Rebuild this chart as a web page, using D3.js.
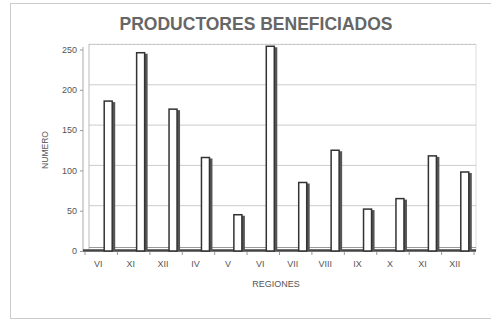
<!DOCTYPE html>
<html>
<head>
<meta charset="utf-8">
<script src="https://cdn.jsdelivr.net/npm/d3@7"></script>
<style>
  html, body { margin: 0; padding: 0; background: #fff; }
  svg { display: block; }
</style>
</head>
<body>
<svg id="chart" width="491" height="326"></svg>
<script>
const categories = ["VI", "XI", "XII", "IV", "V", "VI", "VII", "VIII", "IX", "X", "XI", "XII"];
const values = [186, 246, 176, 116, 45, 254, 85, 125, 52, 65, 118, 98];
const yTicks = [0, 50, 100, 150, 200, 250];

const svg = d3.select("#chart");
const font = "'Liberation Sans', Arial, sans-serif";
const textColor = "#555";

// outer frame
svg.append("rect").attr("x", 10.5).attr("y", 3.5).attr("width", 500).attr("height", 315)
  .attr("fill", "none").attr("stroke", "#ccc").attr("stroke-width", 1);

const left = 83, right = 476, bottom = 251;
const depthX = 6, depthY = -5;

const y = d3.scaleLinear().domain([0, 250]).range([bottom, 49.5]);
const x = d3.scaleBand().domain(d3.range(categories.length)).range([82, 471]).padding(0);

// back wall top (dotted faint)
svg.append("line").attr("x1", left + depthX).attr("x2", right).attr("y1", 44).attr("y2", 44)
  .attr("stroke", "#ddd").attr("stroke-dasharray", "2,2");
// right wall
svg.append("line").attr("x1", right).attr("x2", right).attr("y1", 44).attr("y2", bottom)
  .attr("stroke", "#ddd");

// gridlines on back wall
svg.append("g").selectAll("line").data(yTicks.filter(d => d > 0)).join("line")
  .attr("x1", left + depthX).attr("x2", right)
  .attr("y1", d => y(d) + depthY).attr("y2", d => y(d) + depthY)
  .attr("stroke", "#ccc").attr("stroke-width", 1);

// y axis (front and back edges)
svg.append("line").attr("x1", left).attr("x2", left).attr("y1", 47).attr("y2", bottom)
  .attr("stroke", "#aaa");
svg.append("line").attr("x1", left + depthX).attr("x2", left + depthX).attr("y1", 44).attr("y2", bottom - 2)
  .attr("stroke", "#bbb");

// y ticks and labels
const yAxis = d3.axisLeft(y).tickValues(yTicks).tickSize(3).tickPadding(3);
const gy = svg.append("g").attr("transform", `translate(${left},0)`).call(yAxis);
gy.select(".domain").remove();
gy.selectAll("line").attr("stroke", "#999");
gy.selectAll("text").attr("font-family", font).attr("font-size", 9).attr("fill", textColor);

// floor
svg.append("line").attr("x1", left).attr("x2", right).attr("y1", bottom - 0.5).attr("y2", bottom - 0.5)
  .attr("stroke", "#444").attr("stroke-width", 2.5);
svg.append("line").attr("x1", left + depthX).attr("x2", right).attr("y1", bottom - 3.5).attr("y2", bottom - 3.5)
  .attr("stroke", "#999").attr("stroke-width", 1);

// bars
const barW = 8, sideW = 3, barOff = 6;
const bars = svg.append("g").selectAll("g").data(values).join("g");
bars.append("rect")
  .attr("x", (d, i) => x(i) + x.bandwidth() / 2 + barOff + barW)
  .attr("y", d => y(d) + 1)
  .attr("width", sideW)
  .attr("height", d => bottom - y(d) - 1)
  .attr("fill", "#555");
bars.append("rect")
  .attr("x", (d, i) => x(i) + x.bandwidth() / 2 + barOff)
  .attr("y", d => y(d))
  .attr("width", barW)
  .attr("height", d => bottom - y(d))
  .attr("fill", "#fff").attr("stroke", "#333").attr("stroke-width", 1.5);

// x axis labels
const xAxis = d3.axisBottom(x).tickFormat(i => categories[i]).tickSize(0).tickPadding(10);
const gx = svg.append("g").attr("transform", `translate(0,${bottom})`).call(xAxis);
gx.select(".domain").remove();
gx.selectAll("text").attr("font-family", font).attr("font-size", 9).attr("fill", textColor);

// small ticks under floor at band boundaries
svg.append("g").selectAll("line").data(d3.range(categories.length + 1)).join("line")
  .attr("x1", i => 82 + i * x.step() + 3).attr("x2", i => 82 + i * x.step() + 3)
  .attr("y1", bottom + 1).attr("y2", bottom + 4)
  .attr("stroke", "#999");

// titles
svg.append("text").attr("x", 256).attr("y", 30).attr("text-anchor", "middle")
  .attr("font-family", font).attr("font-size", 17.5).attr("font-weight", "bold")
  .attr("fill", "#666").text("PRODUCTORES BENEFICIADOS");

svg.append("text").attr("x", 276).attr("y", 287).attr("text-anchor", "middle")
  .attr("font-family", font).attr("font-size", 9).attr("fill", textColor)
  .text("REGIONES");

svg.append("text").attr("transform", "translate(48,150) rotate(-90)").attr("text-anchor", "middle")
  .attr("font-family", font).attr("font-size", 8.5).attr("fill", textColor)
  .text("NUMERO");
</script>
</body>
</html>
